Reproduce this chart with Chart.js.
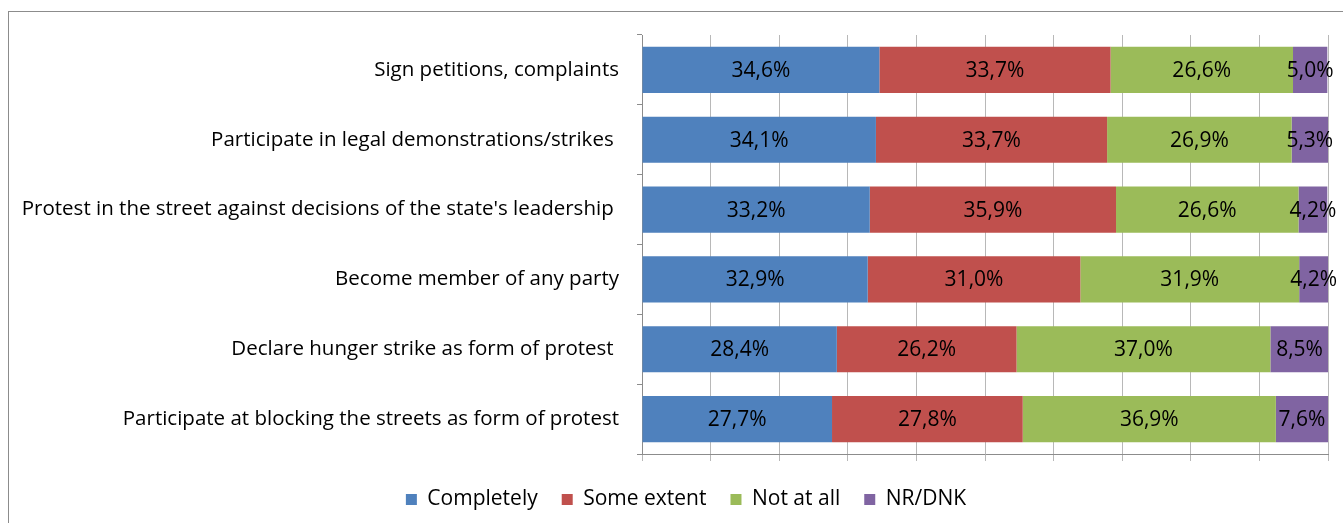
<!DOCTYPE html>
<html>
<head>
<meta charset="utf-8">
<script src="https://cdn.jsdelivr.net/npm/chart.js@4.4.0/dist/chart.umd.min.js"></script>
<style>
  html, body { margin: 0; padding: 0; background: #fff; overflow: hidden; width: 1343px; height: 523px; }
  #frame { position: absolute; left: 8px; top: 11px; width: 2000px; height: 2000px; border-left: 1px solid #8c8c8c; border-top: 1px solid #8c8c8c; }
  #wrap { position: absolute; left: 0; top: 0; width: 1372px; height: 523px; }
</style>
</head>
<body>
<div id="frame"></div>
<div id="wrap"><canvas id="chart"></canvas></div>
<script>
// survey answers, share of respondents (%)
var categories = [
  "Sign petitions, complaints",
  "Participate in legal demonstrations/strikes ",
  "Protest in the street against decisions of the state's leadership ",
  "Become member of any party",
  "Declare hunger strike as form of protest ",
  "Participate at blocking the streets as form of protest"
];
var seriesNames = ["Completely", "Some extent", "Not at all", "NR/DNK"];
var completely = [34.6, 34.1, 33.2, 32.9, 28.4, 27.7];
var someExtent = [33.7, 33.7, 35.9, 31.0, 26.2, 27.8];
var notAtAll   = [26.6, 26.9, 26.6, 31.9, 37.0, 36.9];
var nrDnk      = [5.0, 5.3, 4.2, 4.2, 8.5, 7.6];
var colors = ["#4f81bd", "#c0504d", "#9bbb59", "#8064a2"];
var xTicks = [0, 10, 20, 30, 40, 50, 60, 70, 80, 90, 100];

var FONT = "'Open Sans', sans-serif";

// draws the value in the middle of every bar segment
var barLabels = {
  id: "barLabels",
  afterDatasetsDraw: function (chart) {
    var ctx = chart.ctx;
    ctx.save();
    ctx.font = "21px " + FONT;
    ctx.fillStyle = "#000";
    ctx.textAlign = "center";
    ctx.textBaseline = "middle";
    chart.data.datasets.forEach(function (ds, i) {
      var meta = chart.getDatasetMeta(i);
      meta.data.forEach(function (el, j) {
        var p = el.getCenterPoint();
        ctx.fillText(ds.data[j].toFixed(1).replace(".", ",") + "%", p.x, p.y + 1);
      });
    });
    ctx.restore();
  }
};

var allSeries = [completely, someExtent, notAtAll, nrDnk];

new Chart(document.getElementById("chart"), {
  type: "bar",
  data: {
    labels: categories,
    datasets: allSeries.map(function (vals, i) {
      return {
        label: seriesNames[i],
        data: vals,
        yAxisID: "y",
        backgroundColor: colors[i],
        borderWidth: 0,
        barPercentage: 0.66,
        categoryPercentage: 1
      };
    })
  },
  options: {
    indexAxis: "y",
    responsive: true,
    maintainAspectRatio: false,
    animation: false,
    layout: { padding: { top: 35, left: 0, right: 0, bottom: 3 } },
    scales: {
      x: {
        stacked: true,
        min: 0,
        max: 100,
        afterBuildTicks: function (scale) {
          scale.ticks = xTicks.map(function (v) { return { value: v }; });
        },
        afterFit: function (scale) { scale.height = 11; },
        ticks: { display: false },
        grid: { color: "#b8b8b8", tickLength: 7, lineWidth: 1 },
        border: { color: "#8c8c8c" }
      },
      y: {
        stacked: true,
        afterFit: function (scale) { scale.width = 642; },
        ticks: { color: "#000", font: { family: FONT, size: 20.5 }, padding: 18 },
        grid: { offset: true, drawOnChartArea: false, tickLength: 5, color: "#8c8c8c" },
        border: { color: "#8c8c8c" }
      },
      // empty strip on the right, room for the overflowing labels
      y2: {
        type: "category",
        position: "right",
        afterFit: function (scale) { scale.width = 44; },
        ticks: { display: false },
        grid: { display: false },
        border: { display: false }
      }
    },
    plugins: {
      legend: {
        position: "bottom",
        labels: {
          boxWidth: 11,
          boxHeight: 11,
          padding: 24,
          color: "#000",
          font: { family: FONT, size: 21 }
        }
      },
      tooltip: { enabled: false }
    }
  },
  plugins: [barLabels]
});
</script>
</body>
</html>
